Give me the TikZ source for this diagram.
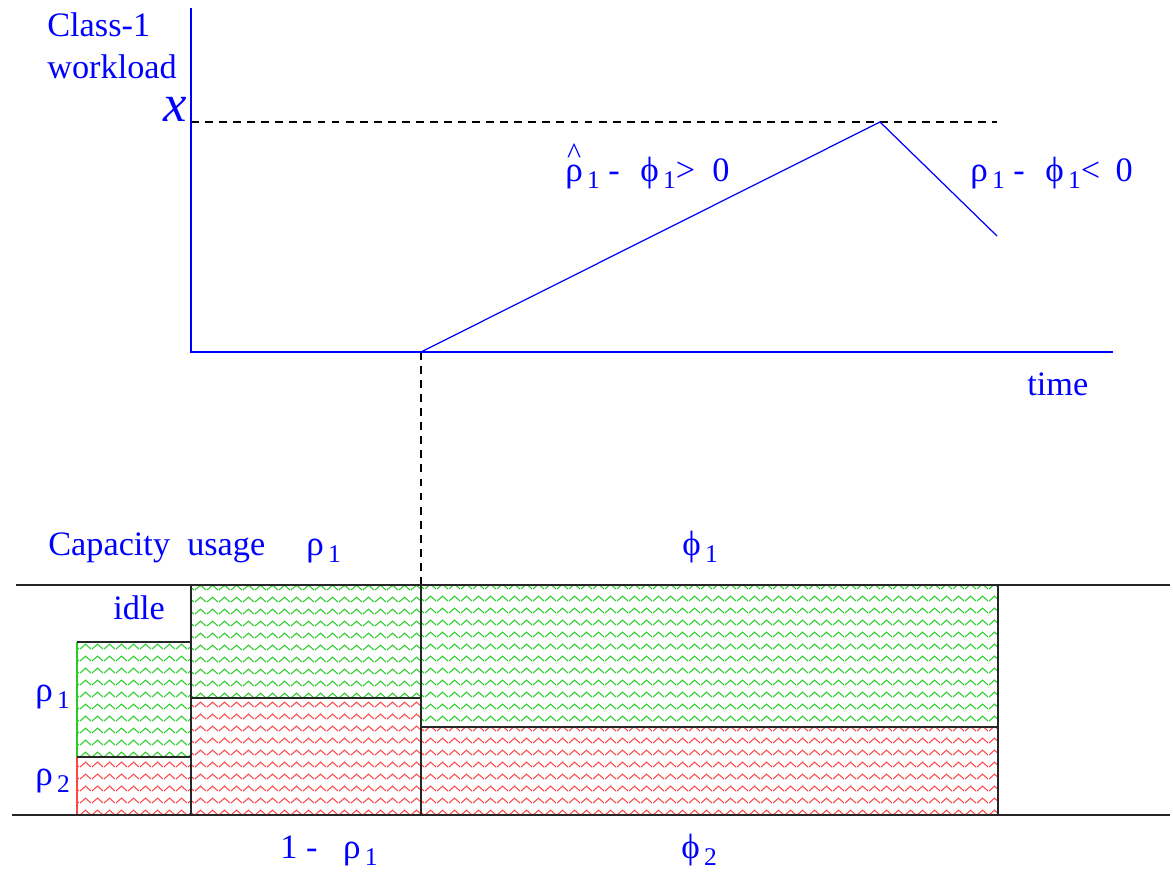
\documentclass[tikz,border=0pt]{standalone}
\usepackage{fontspec}
\setmainfont{Liberation Serif}
\usetikzlibrary{patterns}
\definecolor{usageBlue}{RGB}{0,0,255}
\definecolor{zigGreen}{RGB}{40,205,40}
\definecolor{zigRed}{RGB}{255,70,70}
\pgfdeclarepatternformonly{zigzag}{\pgfpoint{0cm}{0cm}}{\pgfpoint{0.23cm}{0.234cm}}{\pgfpoint{0.23cm}{0.234cm}}{%
  \pgfsetlinewidth{0.6pt}%
  \pgfpathmoveto{\pgfpoint{0cm}{0.04cm}}%
  \pgfpathlineto{\pgfpoint{0.115cm}{0.14cm}}%
  \pgfpathlineto{\pgfpoint{0.23cm}{0.04cm}}%
  \pgfusepath{stroke}}
\newcommand{\lowidx}[1]{\raisebox{-0.22em}{\fontsize{14.5}{14.5}\selectfont\,#1}}
\newcommand{\grk}[1]{{\fontsize{20}{22}\selectfont #1}}
\newcommand{\rhohat}{\ooalign{\grk{ρ}\cr\hidewidth\raisebox{0.5em}{\fontsize{17}{17}\selectfont\textasciicircum}\hidewidth\cr}}
\tikzset{
  usageLabel/.style={text=usageBlue, font=\fontsize{19.5}{22}\selectfont, inner sep=0pt, anchor=base west},
  usageAxis/.style={draw=usageBlue, line width=0.7pt},
  usageGuide/.style={draw=black, line width=0.6pt, dash pattern=on 4.5pt off 3.5pt},
  usageRule/.style={draw=black!85, line width=0.7pt},
  greenLoad/.style={pattern=zigzag, pattern color=zigGreen},
  redLoad/.style={pattern=zigzag, pattern color=zigRed}
}
\begin{document}
\begin{tikzpicture}[x=0.02cm, y=-0.02cm]
  \useasboundingbox (0,0) rectangle (1173,875);
  % workload plot
  \coordinate (top) at (191,8);
  \coordinate (origin) at (191,352);
  \coordinate (axisEnd) at (1113,352);
  \coordinate (xLevel) at (191,122);
  \coordinate (xEnd) at (997,122);
  \coordinate (rise) at (421,352);
  \coordinate (peak) at (880,122);
  \coordinate (fall) at (997,236);
  \coordinate (split) at (421,590);
  \draw[usageGuide] (xLevel) -- (xEnd);
  \draw[usageGuide] (rise) -- (split);
  \draw[usageAxis] (top) -- (origin) -- (axisEnd);
  \draw[usageAxis] (rise) -- (peak) -- (fall);
  \node[usageLabel] (class) at (47,37) {Class-1};
  \node[usageLabel] (workload) at (47,79) {workload};
  \node[usageLabel, anchor=base east, font=\fontsize{30}{30}\selectfont\itshape] (xval) at (187,122) {x};
  \node[usageLabel] (upLabel) at (565,181) {\rhohat\lowidx{1}\ -\hspace{0.6em}\grk{ϕ}\lowidx{1}>\hspace{0.5em}0};
  \node[usageLabel] (downLabel) at (970,181) {\grk{ρ}\lowidx{1}\ -\hspace{0.6em}\grk{ϕ}\lowidx{1}<\hspace{0.45em}0};
  \node[usageLabel] (time) at (1027,395) {time};
  % capacity usage
  \node[usageLabel] (capacity) at (48,555) {Capacity\ \ usage};
  \node[usageLabel] (rhoTop) at (306,555) {\grk{ρ}\lowidx{1}};
  \node[usageLabel] (phiTop) at (682,555) {\grk{ϕ}\lowidx{1}};
  \fill[greenLoad] (77,642) rectangle (191,757);
  \fill[redLoad] (77,757) rectangle (191,815);
  \fill[greenLoad] (191,585) rectangle (421,698);
  \fill[redLoad] (191,698) rectangle (421,815);
  \fill[greenLoad] (421,585) rectangle (998,727);
  \fill[redLoad] (421,727) rectangle (998,815);
  \draw[zigGreen, line width=0.7pt] (77,642) -- (77,757);
  \draw[zigRed, line width=0.7pt] (77,757) -- (77,815);
  \draw[usageRule] (77,642) -- (191,642);
  \draw[usageRule] (77,757) -- (191,757);
  \draw[usageRule] (191,585) -- (191,815);
  \draw[usageRule] (191,698) -- (421,698);
  \draw[usageRule] (421,585) -- (421,815);
  \draw[usageRule] (421,727) -- (998,727);
  \draw[usageRule] (998,585) -- (998,815);
  \draw[usageRule] (16,585) -- (1170,585);
  \draw[usageRule] (12,815) -- (1170,815);
  \node[usageLabel] (idle) at (113,619) {idle};
  \node[usageLabel] (rhoSide) at (35,701) {\grk{ρ}\lowidx{1}};
  \node[usageLabel] (rhoTwo) at (35,785) {\grk{ρ}\lowidx{2}};
  \node[usageLabel] (oneMinus) at (280,858) {1 -\hspace{0.75em}\grk{ρ}\lowidx{1}};
  \node[usageLabel] (phiTwo) at (681,858) {\grk{ϕ}\lowidx{2}};
\end{tikzpicture}
\end{document}
